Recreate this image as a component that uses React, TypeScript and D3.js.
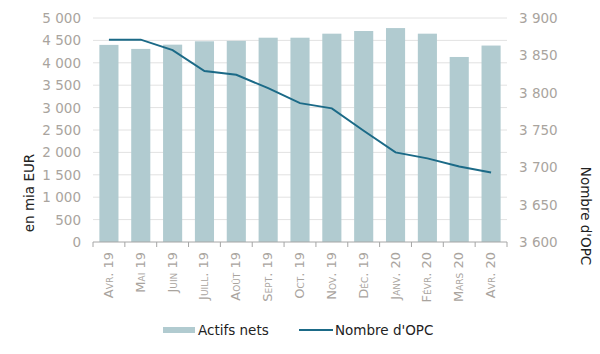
import React, { useEffect, useRef } from 'react';
import * as d3 from 'd3';

const months = ['Avr. 19', 'Mai 19', 'Juin 19', 'Juill. 19', 'Août 19', 'Sept. 19', 'Oct. 19',
  'Nov. 19', 'Déc. 19', 'Janv. 20', 'Févr. 20', 'Mars 20', 'Avr. 20'];
const actifsNets = [4400, 4310, 4405, 4480, 4490, 4560, 4560, 4650, 4710, 4775, 4650, 4130, 4385];
const nombreOpc = [3871, 3871, 3857, 3829, 3824, 3806, 3786, 3779, 3749, 3720, 3712, 3701, 3693];
const leftTicks = [0, 500, 1000, 1500, 2000, 2500, 3000, 3500, 4000, 4500, 5000];
const rightTicks = [3600, 3650, 3700, 3750, 3800, 3850, 3900];

const width = 600;
const height = 354;
const margin = { top: 18, right: 93, bottom: 112, left: 93 };

const barColor = '#b1cbd0';
const lineColor = '#1b6a87';
const tickColor = '#a9a49e';
const fmt = (v: number) => d3.format(',')(v).replace(/,/g, ' ');

const App = () => {
  const svgRef = useRef<SVGSVGElement>(null);

  useEffect(() => {
    const svg = d3.select(svgRef.current);
    svg.selectAll('*').remove();

    const x = d3.scaleBand()
      .domain(months)
      .range([margin.left, width - margin.right])
      .paddingInner(0.4)
      .paddingOuter(0.2);
    const yL = d3.scaleLinear().domain([0, 5000]).range([height - margin.bottom, margin.top]);
    const yR = d3.scaleLinear().domain([3600, 3900]).range([height - margin.bottom, margin.top]);

    // grid
    svg.append('g')
      .selectAll('line')
      .data(leftTicks.slice(1))
      .join('line')
      .attr('x1', margin.left)
      .attr('x2', width - margin.right)
      .attr('y1', d => yL(d))
      .attr('y2', d => yL(d))
      .attr('stroke', '#e2e2e2')
      .attr('stroke-width', 1);

    // bars
    svg.append('g')
      .selectAll('rect')
      .data(actifsNets)
      .join('rect')
      .attr('x', (_, i) => x(months[i])!)
      .attr('width', x.bandwidth())
      .attr('y', d => yL(d))
      .attr('height', d => yL(0) - yL(d))
      .attr('fill', barColor);

    // x axis
    const step = x.step();
    const x0 = margin.left;
    const axisG = svg.append('g');
    axisG.append('line')
      .attr('x1', x0).attr('x2', width - margin.right)
      .attr('y1', yL(0)).attr('y2', yL(0))
      .attr('stroke', '#a6a6a6');
    axisG.selectAll('line.tick')
      .data(d3.range(months.length + 1))
      .join('line')
      .attr('class', 'tick')
      .attr('x1', i => x0 + i * step)
      .attr('x2', i => x0 + i * step)
      .attr('y1', yL(0))
      .attr('y2', yL(0) + 5)
      .attr('stroke', '#a6a6a6');
    axisG.selectAll('text')
      .data(months)
      .join('text')
      .attr('transform', d => `translate(${x(d)! + x.bandwidth() / 2 + 4},${yL(0) + 10}) rotate(-90)`)
      .attr('text-anchor', 'end')
      .style('font-variant', 'small-caps')
      .attr('font-size', 13)
      .attr('fill', tickColor)
      .text(d => d);

    // left axis labels
    svg.append('g')
      .selectAll('text')
      .data(leftTicks)
      .join('text')
      .attr('x', 81)
      .attr('y', d => yL(d) + 5)
      .attr('text-anchor', 'end')
      .attr('font-size', 13.5)
      .attr('fill', tickColor)
      .text(d => fmt(d));

    // right axis labels
    svg.append('g')
      .selectAll('text')
      .data(rightTicks)
      .join('text')
      .attr('x', 519)
      .attr('y', d => yR(d) + 5)
      .attr('font-size', 13.5)
      .attr('fill', tickColor)
      .text(d => fmt(d));

    // line
    const line = d3.line<number>()
      .x((_, i) => x(months[i])! + x.bandwidth() / 2)
      .y(d => yR(d));
    svg.append('path')
      .datum(nombreOpc)
      .attr('d', line)
      .attr('fill', 'none')
      .attr('stroke', lineColor)
      .attr('stroke-width', 2);

    // axis titles
    svg.append('text')
      .attr('transform', `translate(34,193) rotate(-90)`)
      .attr('text-anchor', 'middle')
      .attr('font-size', 13.5)
      .attr('fill', '#222')
      .text('en mia EUR');
    svg.append('text')
      .attr('transform', `translate(581,216) rotate(90)`)
      .attr('text-anchor', 'middle')
      .attr('font-size', 13.5)
      .attr('fill', '#222')
      .text("Nombre d'OPC");

    // legend
    const lg = svg.append('g').attr('font-size', 13.5).attr('fill', '#222');
    lg.append('rect').attr('x', 163).attr('y', 327).attr('width', 32).attr('height', 6).attr('fill', barColor);
    lg.append('text').attr('x', 198).attr('y', 335).text('Actifs nets');
    lg.append('line').attr('x1', 299).attr('x2', 333).attr('y1', 330).attr('y2', 330)
      .attr('stroke', lineColor).attr('stroke-width', 2);
    lg.append('text').attr('x', 335).attr('y', 335).text("Nombre d'OPC");
  }, []);

  return (
    <svg
      ref={svgRef}
      width={width}
      height={height}
      viewBox={`0 0 ${width} ${height}`}
      style={{ position: 'absolute', left: 0, top: 0, fontFamily: 'Verdana, "DejaVu Sans", sans-serif', background: '#fff' }}
    />
  );
};

export default App;
